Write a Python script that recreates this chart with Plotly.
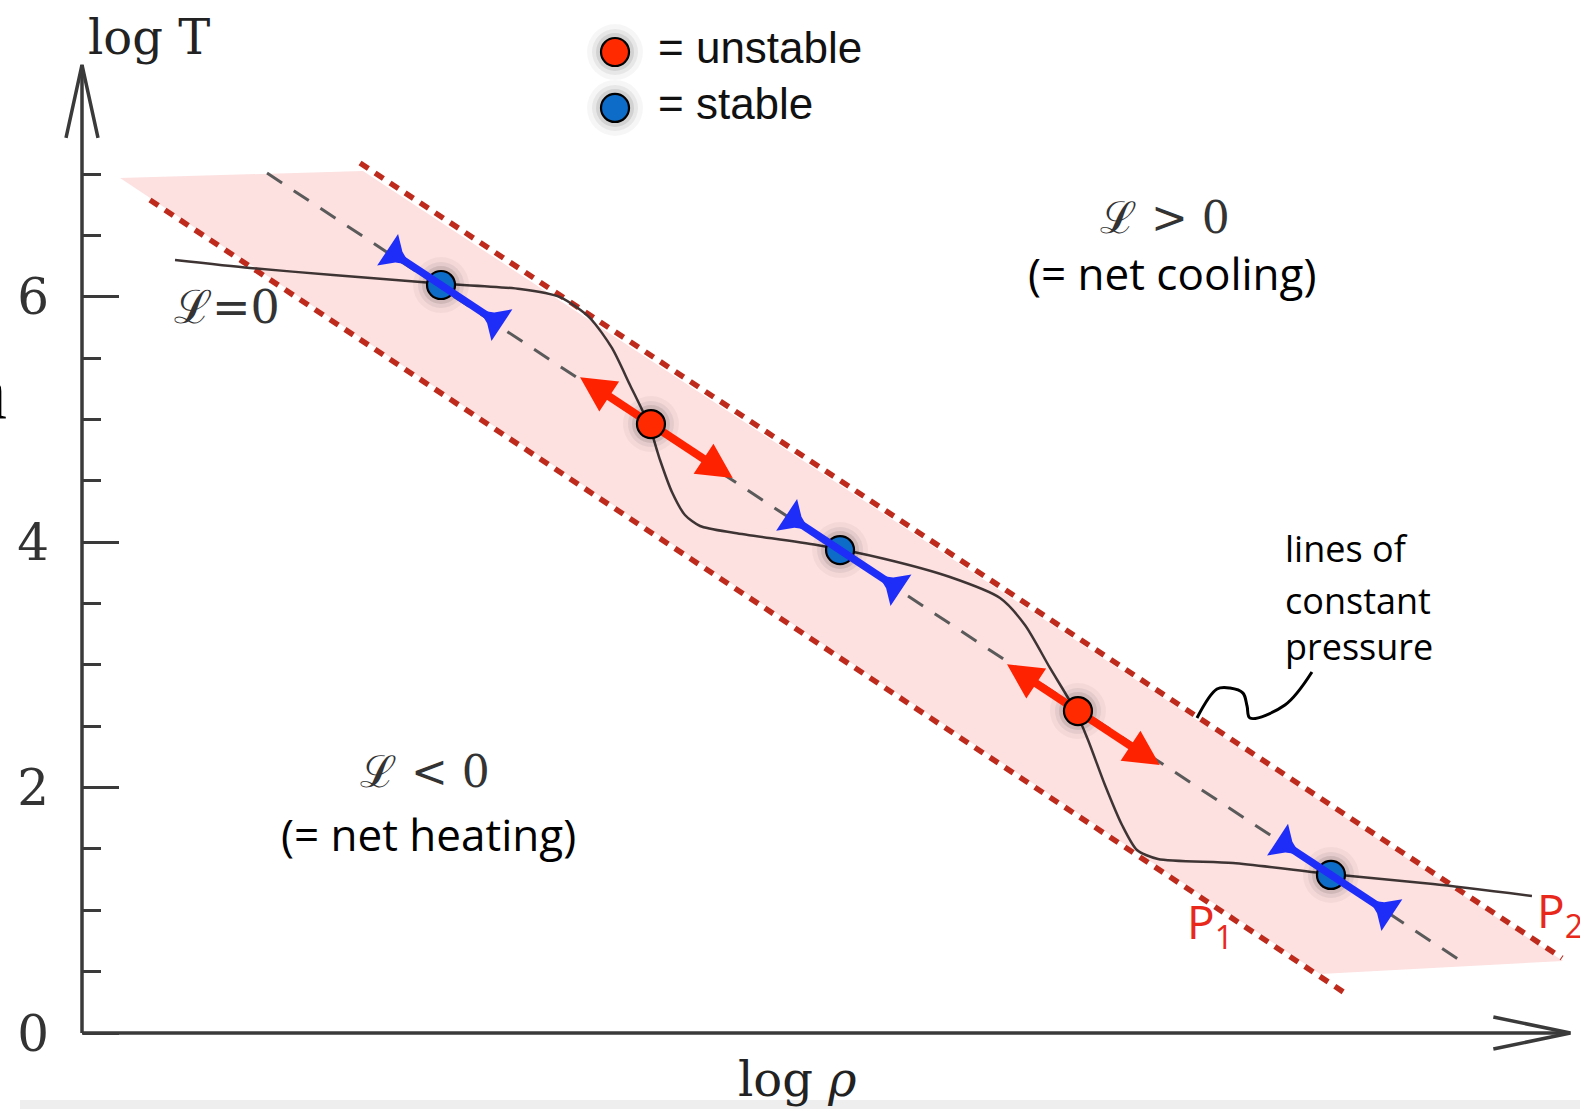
import numpy as np
import plotly.graph_objects as go

# ------------------------------------------------------------------
# DATA  (x = log rho in arbitrary units, y = log T)
# ------------------------------------------------------------------
y_tick_vals = [0, 2, 4, 6]
y_tick_text = ["0", "2", "4", "6"]
y_minor_vals = [0.5, 1.0, 1.5, 2.5, 3.0, 3.5, 4.5, 5.0, 5.5, 6.5, 7.0]

x_axis_end = 12.13     # tip of the log rho arrow
y_axis_end = 7.89      # tip of the log T arrow

# equilibrium curve  L = 0
curve_x = [0.758, 1.369, 2.046, 2.861, 3.570, 3.896, 4.140, 4.319, 4.466, 4.621,
           4.711, 4.808, 4.914, 5.037, 5.322, 5.990, 6.544, 7.074, 7.482, 7.685,
           7.889, 8.093, 8.199, 8.337, 8.476, 8.598, 8.769, 9.381, 10.171, 11.011, 11.817]
curve_y = [6.300, 6.235, 6.178, 6.112, 6.064, 5.998, 5.827, 5.583, 5.281, 4.955,
           4.670, 4.409, 4.222, 4.132, 4.075, 3.977, 3.863, 3.716, 3.545, 3.325,
           2.975, 2.632, 2.388, 2.021, 1.695, 1.491, 1.418, 1.385, 1.296, 1.214, 1.117]

# isobars P1, P2 and the central (dashed) isobar
p1_x = [0.554, 10.318]
p1_y = [6.789, 0.309]
p2_x = [2.266, 12.062]
p2_y = [7.090, 0.611]
mid_x = [1.508, 11.288]
mid_y = [7.009, 0.554]

# shaded band between the isobars
band_x = [0.310, 2.290, 12.070, 10.090]
band_y = [6.968, 7.025, 0.587, 0.481]

# equilibrium points
eq_x = [2.926, 4.637, 6.178, 8.117, 10.179]
eq_y = [6.096, 4.963, 3.936, 2.624, 1.288]
eq_kind = ["stable", "unstable", "stable", "unstable", "stable"]

# legend key positions
key_x = [4.344, 4.344]
key_y = [7.995, 7.539]
key_kind = ["unstable", "stable"]
key_text = ["= unstable", "= stable"]

# pointer line from "lines of constant pressure" to P2
sq_x = [10.024, 9.804, 9.519, 9.495, 9.462, 9.356, 9.250, 9.087]
sq_y = [2.942, 2.673, 2.567, 2.665, 2.770, 2.811, 2.803, 2.567]

# ------------------------------------------------------------------
# STYLE
# ------------------------------------------------------------------
W, H = 1580, 1109
PX = 122.7            # pixels per data unit (both axes)
X0, Y0 = 82, 1033     # pixel position of the origin
XR = [-X0 / PX, (W - X0) / PX]
YR = [(Y0 - H) / PX, Y0 / PX]

RED = "#FF2200"
RED_DOT = "#FF2A00"
BLUE = "#1E2EF8"
BLUE_DOT = "#0C6CC8"
ISO_RED = "#BE2A1C"
AXIS = "#3A3A3A"
SERIF = "DejaVu Serif"
HAND = "Open Sans"

fig = go.Figure()

# band
fig.add_trace(go.Scatter(x=band_x + band_x[:1], y=band_y + band_y[:1], mode="lines",
                         fill="toself", fillcolor="rgb(253,224,224)",
                         line=dict(width=0), hoverinfo="skip"))
# isobars
for xs, ys in ((p1_x, p1_y), (p2_x, p2_y)):
    fig.add_trace(go.Scatter(x=xs, y=ys, mode="lines",
                             line=dict(color=ISO_RED, width=5.5, dash="10px,8px"),
                             hoverinfo="skip"))
fig.add_trace(go.Scatter(x=mid_x, y=mid_y, mode="lines",
                         line=dict(color="#5A5A5A", width=3, dash="18px,14px"),
                         hoverinfo="skip"))
# equilibrium curve
fig.add_trace(go.Scatter(x=curve_x, y=curve_y, mode="lines",
                         line=dict(color="#3E3434", width=2.5, shape="spline", smoothing=0.7),
                         hoverinfo="skip"))

# axes lines and arrow heads
fig.add_trace(go.Scatter(x=[0, 0, None, 0, x_axis_end],
                         y=[0, y_axis_end, None, 0, 0], mode="lines",
                         line=dict(color=AXIS, width=3.5), hoverinfo="skip"))
hx, hy = 16 / PX, 73 / PX
fig.add_trace(go.Scatter(x=[-hx, 0, hx, None, x_axis_end - 77 / PX, x_axis_end, x_axis_end - 77 / PX],
                         y=[y_axis_end - hy, y_axis_end, y_axis_end - hy, None, 16 / PX, 0, -16 / PX],
                         mode="lines", line=dict(color=AXIS, width=3.5), hoverinfo="skip"))

# direction along the isobar (equal pixel scale on both axes)
d = np.array([1.0, -0.66])
d /= np.linalg.norm(d)
nrm = np.array([-d[1], d[0]])


def add_glow(xs, ys):
    for sz, a in ((56, 0.035), (46, 0.06), (38, 0.09)):
        fig.add_trace(go.Scatter(x=xs, y=ys, mode="markers", hoverinfo="skip",
                                 marker=dict(size=sz, color=f"rgba(0,0,0,{a})", line=dict(width=0))))


st_x = [x for x, k in zip(eq_x, eq_kind) if k == "stable"]
st_y = [y for y, k in zip(eq_y, eq_kind) if k == "stable"]
un_x = [x for x, k in zip(eq_x, eq_kind) if k == "unstable"]
un_y = [y for y, k in zip(eq_y, eq_kind) if k == "unstable"]

add_glow(eq_x, eq_y)
add_glow(key_x, key_y)

# unstable: arrows pointing away, drawn below the dot
R_BACK, R_FWD, R_HL, R_HW = 85 / PX, 98 / PX, 35 / PX, 36 / PX
shaft_x, shaft_y, head_x, head_y = [], [], [], []
for cx, cy in zip(un_x, un_y):
    c = np.array([cx, cy])
    a = c - (R_BACK - R_HL + 2 / PX) * d
    b = c + (R_FWD - R_HL + 2 / PX) * d
    shaft_x += [a[0], b[0], None]
    shaft_y += [a[1], b[1], None]
    for s, ext in ((-1, R_BACK), (1, R_FWD)):
        tip = c + s * ext * d
        base = c + s * (ext - R_HL) * d
        p1 = base + nrm * R_HW / 2
        p2 = base - nrm * R_HW / 2
        head_x += [tip[0], p1[0], p2[0], tip[0], None]
        head_y += [tip[1], p1[1], p2[1], tip[1], None]
fig.add_trace(go.Scatter(x=shaft_x, y=shaft_y, mode="lines", line=dict(color=RED, width=8),
                         hoverinfo="skip"))
fig.add_trace(go.Scatter(x=head_x, y=head_y, mode="lines", fill="toself", fillcolor=RED,
                         line=dict(width=0, color=RED), hoverinfo="skip"))

# dots
fig.add_trace(go.Scatter(x=un_x + [key_x[0]], y=un_y + [key_y[0]], mode="markers", hoverinfo="skip",
                         marker=dict(size=28, color=RED_DOT, line=dict(color="black", width=2.2))))
fig.add_trace(go.Scatter(x=st_x + [key_x[1]], y=st_y + [key_y[1]], mode="markers", hoverinfo="skip",
                         marker=dict(size=28, color=BLUE_DOT, line=dict(color="black", width=2.2))))

# stable: arrows pointing back toward the dot, drawn over the dot
B_BACK, B_FWD, B_HL, B_HW = 64 / PX, 73 / PX, 27 / PX, 38 / PX
shaft_x, shaft_y, head_x, head_y = [], [], [], []
for cx, cy in zip(st_x, st_y):
    c = np.array([cx, cy])
    a = c - (B_BACK - 4 / PX) * d
    b = c + (B_FWD - 4 / PX) * d
    shaft_x += [a[0], b[0], None]
    shaft_y += [a[1], b[1], None]
    for s, ext in ((-1, B_BACK), (1, B_FWD)):
        outer = c + s * ext * d
        tip = c + s * (ext - B_HL) * d
        p1 = outer + nrm * B_HW / 2
        p2 = outer - nrm * B_HW / 2
        m1 = c + s * (ext - 0.5 * B_HL) * d + nrm * B_HW * 0.17
        m2 = c + s * (ext - 0.5 * B_HL) * d - nrm * B_HW * 0.17
        head_x += [p1[0], m1[0], tip[0], m2[0], p2[0], p1[0], None]
        head_y += [p1[1], m1[1], tip[1], m2[1], p2[1], p1[1], None]
fig.add_trace(go.Scatter(x=shaft_x, y=shaft_y, mode="lines", line=dict(color=BLUE, width=7.5),
                         hoverinfo="skip"))
fig.add_trace(go.Scatter(x=head_x, y=head_y, mode="lines", fill="toself", fillcolor=BLUE,
                         line=dict(width=0, color=BLUE), hoverinfo="skip"))

# pointer squiggle
fig.add_trace(go.Scatter(x=sq_x, y=sq_y, mode="lines",
                         line=dict(color="black", width=3, shape="spline", smoothing=1.0),
                         hoverinfo="skip"))

# ------------------------------------------------------------------
# TEXT
# ------------------------------------------------------------------
ann = []


def txt(x, y, s, size, family, color="black", xanchor="center", **kw):
    ann.append(dict(x=x, y=y, xref="x", yref="y", text=s, showarrow=False,
                    xanchor=xanchor, yanchor="middle",
                    font=dict(size=size, family=family, color=color), **kw))


txt(0.542, 8.121, "log T", 48, SERIF, "#222")
txt(5.827, -0.371, "log <i>ρ</i>", 48, SERIF, "#222")
txt(1.182, 5.917, "ℒ=0", 46, SERIF, "#333")
txt(8.826, 6.645, "ℒ > 0", 44, SERIF, "#333")
txt(8.883, 6.195, "(= net cooling)", 44, HAND)
txt(2.795, 2.130, "ℒ < 0", 44, SERIF, "#333")
txt(2.820, 1.620, "(= net heating)", 44, HAND)
txt(9.788, 3.945, "lines of", 36, HAND, xanchor="left")
txt(9.788, 3.521, "constant", 36, HAND, xanchor="left")
txt(9.788, 3.154, "pressure", 36, HAND, xanchor="left")
txt(8.989, 0.888, "P<sub>1</sub>", 46, HAND, "#E8281A", xanchor="left")
txt(11.842, 0.978, "P<sub>2</sub>", 46, HAND, "#E8281A", xanchor="left")
for kx, ky, kt in zip(key_x, key_y, key_text):
    txt(kx + 0.33, ky + 0.04, kt, 44, "Liberation Sans", "#111", xanchor="left")
# clipped glyph at the left edge of the picture
ann.append(dict(x=0, y=5.232, xref="paper", yref="y", text="n", showarrow=False,
                xanchor="right", yanchor="middle", xshift=9,
                font=dict(size=80, family="Liberation Serif", color="black")))

fig.update_layout(
    width=W, height=H, margin=dict(l=0, r=0, t=0, b=0, autoexpand=False),
    paper_bgcolor="white", plot_bgcolor="white", showlegend=False,
    annotations=ann,
    shapes=[dict(type="rect", xref="paper", yref="paper", x0=20 / W, x1=1, y0=0, y1=9 / H,
                 fillcolor="#EEEEEE", line=dict(width=0), layer="below")],
    xaxis=dict(range=XR, showgrid=False, zeroline=False, showline=False, automargin=False,
               showticklabels=False, ticks="", fixedrange=True),
    yaxis=dict(range=YR, showgrid=False, zeroline=False, showline=False, automargin=False,
               anchor="free", position=X0 / W, side="left",
               tickmode="array", tickvals=y_tick_vals, ticktext=y_tick_text,
               ticks="inside", ticklen=36, tickwidth=3, tickcolor=AXIS,
               ticklabelstandoff=33,
               tickfont=dict(family=SERIF, size=50, color="#333"),
               minor=dict(tickmode="array", tickvals=y_minor_vals, ticks="inside",
                          ticklen=18, tickwidth=3, tickcolor=AXIS),
               fixedrange=True),
)

fig.write_html("out.html", config={"displayModeBar": False},
               post_script="document.body.style.margin='0';document.body.style.overflow='hidden';")
